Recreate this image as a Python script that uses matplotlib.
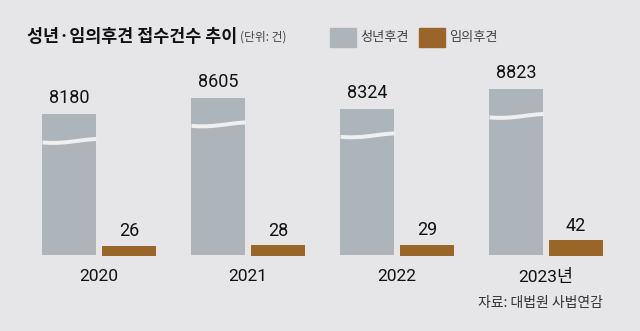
import numpy as np
import matplotlib.pyplot as plt
from matplotlib.patches import Rectangle

years = ['2020', '2021', '2022', '2023년']
adult = [8180, 8605, 8324, 8823]      # 성년후견
voluntary = [26, 28, 29, 42]          # 임의후견

BG = '#e6e6e8'
GRAY = '#adb5ba'
BROWN = '#9a6528'
NUM_FONT = ['Roboto', 'Noto Sans CJK KR']
KR_FONT = ['Noto Sans CJK KR', 'DejaVu Sans']

plt.rcParams['font.family'] = KR_FONT

fig = plt.figure(figsize=(6.4, 3.31), dpi=100, facecolor=BG)
# axes spans full width; baseline at 255.5 px from top
ax = fig.add_axes([0, 75.5 / 331, 1, 185.5 / 331])
ax.set_facecolor('none')
ax2 = ax.twinx()
ax2.set_facecolor('none')

x = np.arange(len(years))
off = 0.2013
w = 0.362

# brown bars on linear scale (0.367 px per unit)
ax.set_ylim(0, 185.5 / 0.367)
# gray bars on broken scale (0.0389 px per unit, starting at 4552)
base = 4552
ax2.set_ylim(base, base + 185.5 / 0.0389)
ax.set_xlim((0 - 99) / 149, (640 - 99) / 149)

ax2.bar(x - off, np.array(adult) - base, bottom=base, width=w, color=GRAY)
ax.bar(x + off, voluntary, width=w, color=BROWN)

# wavy break on gray bars
px = 1 / 0.0389
for xi, v in zip(x, adult):
    t = np.linspace(0, 1, 60)
    xs = xi - off - w / 2 + t * w
    c = v - 26 * px - 2 * px * np.cos(np.pi * (t - 0.2) / 0.9)
    ax2.fill_between(xs, c - 2 * px, c + 2 * px, color='#f0f0f1', lw=0)

for xi, v in zip(x, adult):
    ax2.annotate(str(v), (xi - off, v), xytext=(0, 5), textcoords='offset points',
                 ha='center', va='bottom', fontsize=13, family=NUM_FONT, color='#111111')
for xi, v in zip(x, voluntary):
    ax.annotate(str(v), (xi + off, v), xytext=(0, 4), textcoords='offset points',
                ha='center', va='bottom', fontsize=13, family=NUM_FONT, color='#111111')

ax.set_xticks(x)
ax.set_xticklabels(years, fontsize=12.5, family=NUM_FONT + KR_FONT, color='#111111')
ax.tick_params(axis='x', length=0, pad=10)
ax.set_yticks([])
ax2.set_yticks([])
for a in (ax, ax2):
    for s in a.spines.values():
        s.set_visible(False)

# title and unit
fig.text(27 / 640, 1 - 37 / 331, '성년·임의후견 접수건수 추이', fontsize=12.5,
         fontweight='bold', va='center', ha='left', color='#111111')
fig.text(240 / 640, 1 - 37 / 331, '(단위: 건)', fontsize=8.5, va='center',
         ha='left', color='#444444')

# legend
for bx, col, lab in [(330, GRAY, '성년후견'), (419, BROWN, '임의후견')]:
    fig.patches.append(Rectangle((bx / 640, 1 - 47 / 331), 26 / 640, 19 / 331,
                                 transform=fig.transFigure, color=col))
    fig.text((bx + 30) / 640, 1 - 38 / 331, lab, fontsize=9.5, va='center',
             ha='left', color='#444444')

fig.text(603 / 640, 28 / 331, '자료: 대법원 사법연감', fontsize=10, ha='right',
         va='center', color='#333333')

fig.savefig('out.png', dpi=100, facecolor=BG)
